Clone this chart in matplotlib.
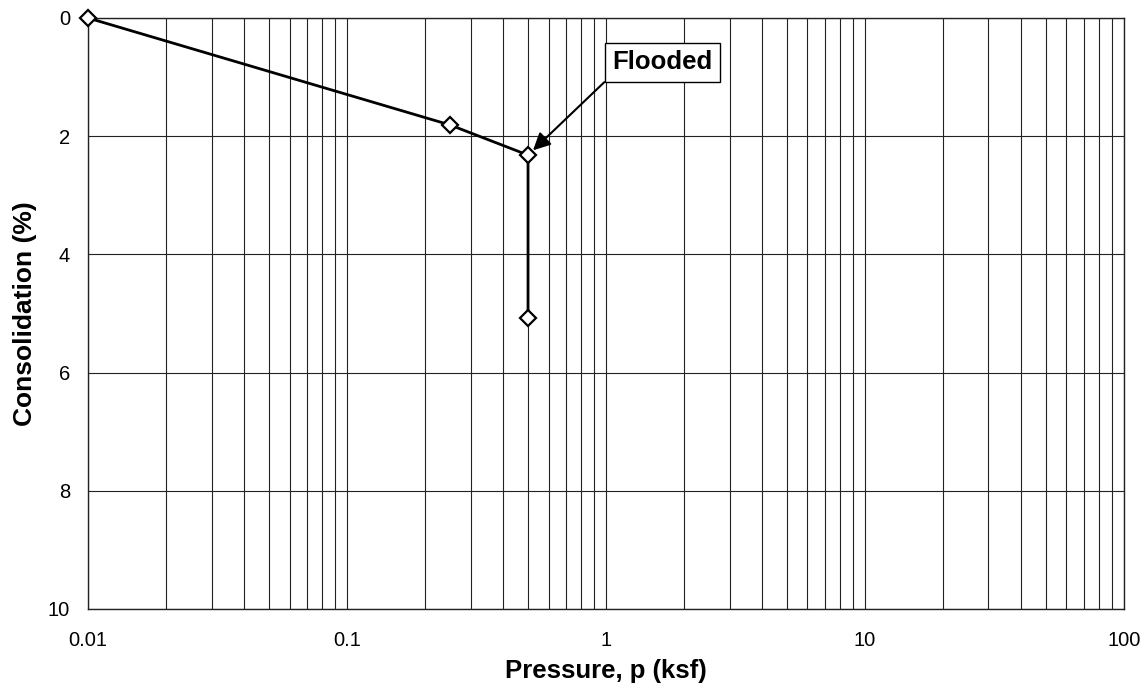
import numpy as np
import matplotlib.pyplot as plt
from matplotlib.ticker import FixedLocator, LogLocator, NullFormatter

plt.rcParams['font.family'] = ['Liberation Sans', 'DejaVu Sans']

# Consolidation test data
pressure = [0.01, 0.25, 0.5, 0.5]          # ksf
consolidation = [0.0, 1.81, 2.32, 5.08]     # %

x_ticks = [0.01, 0.1, 1, 10, 100]
x_tick_labels = ['0.01', '0.1', '1', '10', '100']
y_ticks = [0, 2, 4, 6, 8, 10]

# Flooded annotation
flood_pt = (0.5, 2.32)
flood_text = 'Flooded'
flood_text_pos = (1.06, 0.75)

fig = plt.figure(figsize=(11.48, 6.92), dpi=100)
ax = fig.add_axes([0.0767, 0.12, 0.9023, 0.854])

ax.set_xscale('log')
ax.set_xlim(0.01, 100)
ax.set_ylim(10, 0)

ax.xaxis.set_major_locator(FixedLocator(x_ticks))
ax.set_xticklabels(x_tick_labels)
ax.xaxis.set_minor_locator(LogLocator(base=10, subs=np.arange(2, 10)))
ax.xaxis.set_minor_formatter(NullFormatter())
ax.set_yticks(y_ticks)

ax.grid(True, which='both', axis='x', color='#222222', lw=0.8)
ax.grid(True, which='major', axis='y', color='#222222', lw=0.8)
ax.tick_params(which='both', length=0, labelsize=14.5)
ax.tick_params(axis='x', pad=16)
ax.tick_params(axis='y', pad=13)
for s in ax.spines.values():
    s.set_linewidth(1.0)
    s.set_color('#222222')

ax.plot(pressure, consolidation, color='black', lw=2, marker='D', ms=8,
        mfc='white', mec='black', mew=1.6, clip_on=False, zorder=5)

ax.annotate(flood_text, xy=flood_pt, xytext=flood_text_pos,
            textcoords='data', fontsize=18.5, fontweight='bold',
            ha='left', va='center',
            bbox=dict(boxstyle='square,pad=0.3', fc='white', ec='black', lw=1),
            arrowprops=dict(arrowstyle='-|>', color='black', lw=1.5,
                            mutation_scale=26, shrinkA=0, shrinkB=5,
                            relpos=(0, 0)),
            zorder=6)

ax.set_xlabel('Pressure, p (ksf)', fontsize=18.5, fontweight='bold', labelpad=6.5)
ax.set_ylabel('Consolidation (%)', fontsize=19, fontweight='bold', labelpad=7.5)

fig.savefig('out.png', dpi=100)
